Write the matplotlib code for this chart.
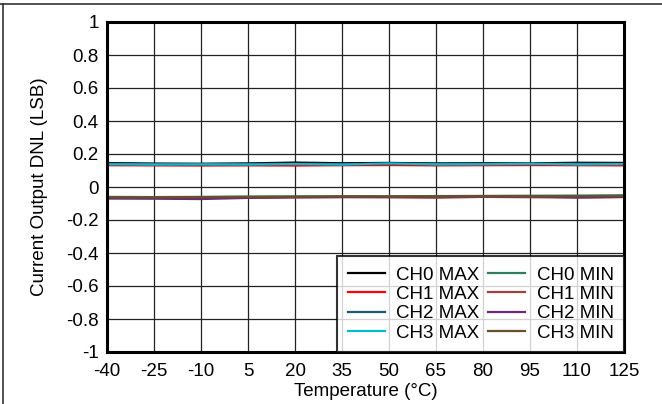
import matplotlib.pyplot as plt
from matplotlib.lines import Line2D

plt.rcParams["font.family"] = ["Liberation Sans", "DejaVu Sans"]
plt.rcParams["axes.unicode_minus"] = False

temps = [-40, -25, -10, 5, 20, 35, 50, 65, 80, 95, 110, 125]

ch0_max = [0.145, 0.142, 0.141, 0.143, 0.148, 0.144, 0.146, 0.143, 0.144, 0.143, 0.147, 0.146]
ch1_max = [0.132, 0.131, 0.130, 0.131, 0.130, 0.132, 0.133, 0.131, 0.132, 0.133, 0.132, 0.131]
ch2_max = [0.140, 0.139, 0.138, 0.139, 0.141, 0.138, 0.140, 0.139, 0.140, 0.139, 0.141, 0.140]
ch3_max = [0.138, 0.136, 0.137, 0.136, 0.139, 0.136, 0.143, 0.137, 0.138, 0.141, 0.137, 0.139]

ch0_min = [-0.060, -0.061, -0.060, -0.058, -0.057, -0.056, -0.056, -0.055, -0.054, -0.053, -0.052, -0.050]
ch1_min = [-0.066, -0.066, -0.066, -0.064, -0.062, -0.061, -0.063, -0.065, -0.060, -0.062, -0.064, -0.061]
ch2_min = [-0.070, -0.071, -0.073, -0.066, -0.063, -0.061, -0.060, -0.059, -0.058, -0.057, -0.063, -0.060]
ch3_min = [-0.062, -0.063, -0.061, -0.060, -0.059, -0.057, -0.058, -0.058, -0.056, -0.056, -0.056, -0.055]

series = [
    ("CH0 MAX", ch0_max, "#000000"),
    ("CH1 MAX", ch1_max, "#ff0000"),
    ("CH2 MAX", ch2_max, "#1e5a6e"),
    ("CH3 MAX", ch3_max, "#00bcd4"),
    ("CH0 MIN", ch0_min, "#2e7d5b"),
    ("CH1 MIN", ch1_min, "#a04040"),
    ("CH2 MIN", ch2_min, "#6a2c70"),
    ("CH3 MIN", ch3_min, "#6b4f2a"),
]

FS = 13.5

fig = plt.figure(figsize=(6.62, 4.04), dpi=100)
ax = fig.add_axes([107 / 662, 1 - 352 / 404, (624 - 107) / 662, (352 - 22) / 404])

for label, vals, color in series:
    ax.plot(temps, vals, color=color, linewidth=1.6, label=label)

ax.set_xlim(-40, 125)
ax.set_ylim(-1, 1)
ax.set_xticks(temps)
ax.set_yticks([1, 0.8, 0.6, 0.4, 0.2, 0, -0.2, -0.4, -0.6, -0.8, -1])
ax.set_yticklabels(["1", "0.8", "0.6", "0.4", "0.2", "0", "-0.2", "-0.4", "-0.6", "-0.8", "-1"])
ax.grid(True, color="#222222", linewidth=0.9)
ax.set_axisbelow(True)
ax.tick_params(length=0, labelsize=FS)
ax.tick_params(axis="x", pad=8)
ax.tick_params(axis="y", pad=6)
for spine in ax.spines.values():
    spine.set_linewidth(2.2)
    spine.set_color("black")

ax.set_xlabel("Temperature (\u00b0C)", fontsize=FS, labelpad=2)
ax.set_ylabel("Current Output DNL (LSB)", fontsize=FS, labelpad=13)

leg = ax.legend(
    ncol=2,
    loc="lower right",
    fontsize=FS,
    frameon=True,
    fancybox=False,
    edgecolor="black",
    borderaxespad=0,
    handlelength=2.0,
    handletextpad=0.6,
    columnspacing=0.45,
    labelspacing=0.12,
    borderpad=0.55,
)
leg.get_frame().set_linewidth(1.5)

# outer border of the figure (top and left)
fig.add_artist(Line2D([0, 1], [1 - 4 / 404, 1 - 4 / 404], color="#333333", linewidth=1.2))
fig.add_artist(Line2D([3 / 662, 3 / 662], [0, 1 - 4 / 404], color="#333333", linewidth=1.2))

fig.savefig("out.png", dpi=100, facecolor="white")
